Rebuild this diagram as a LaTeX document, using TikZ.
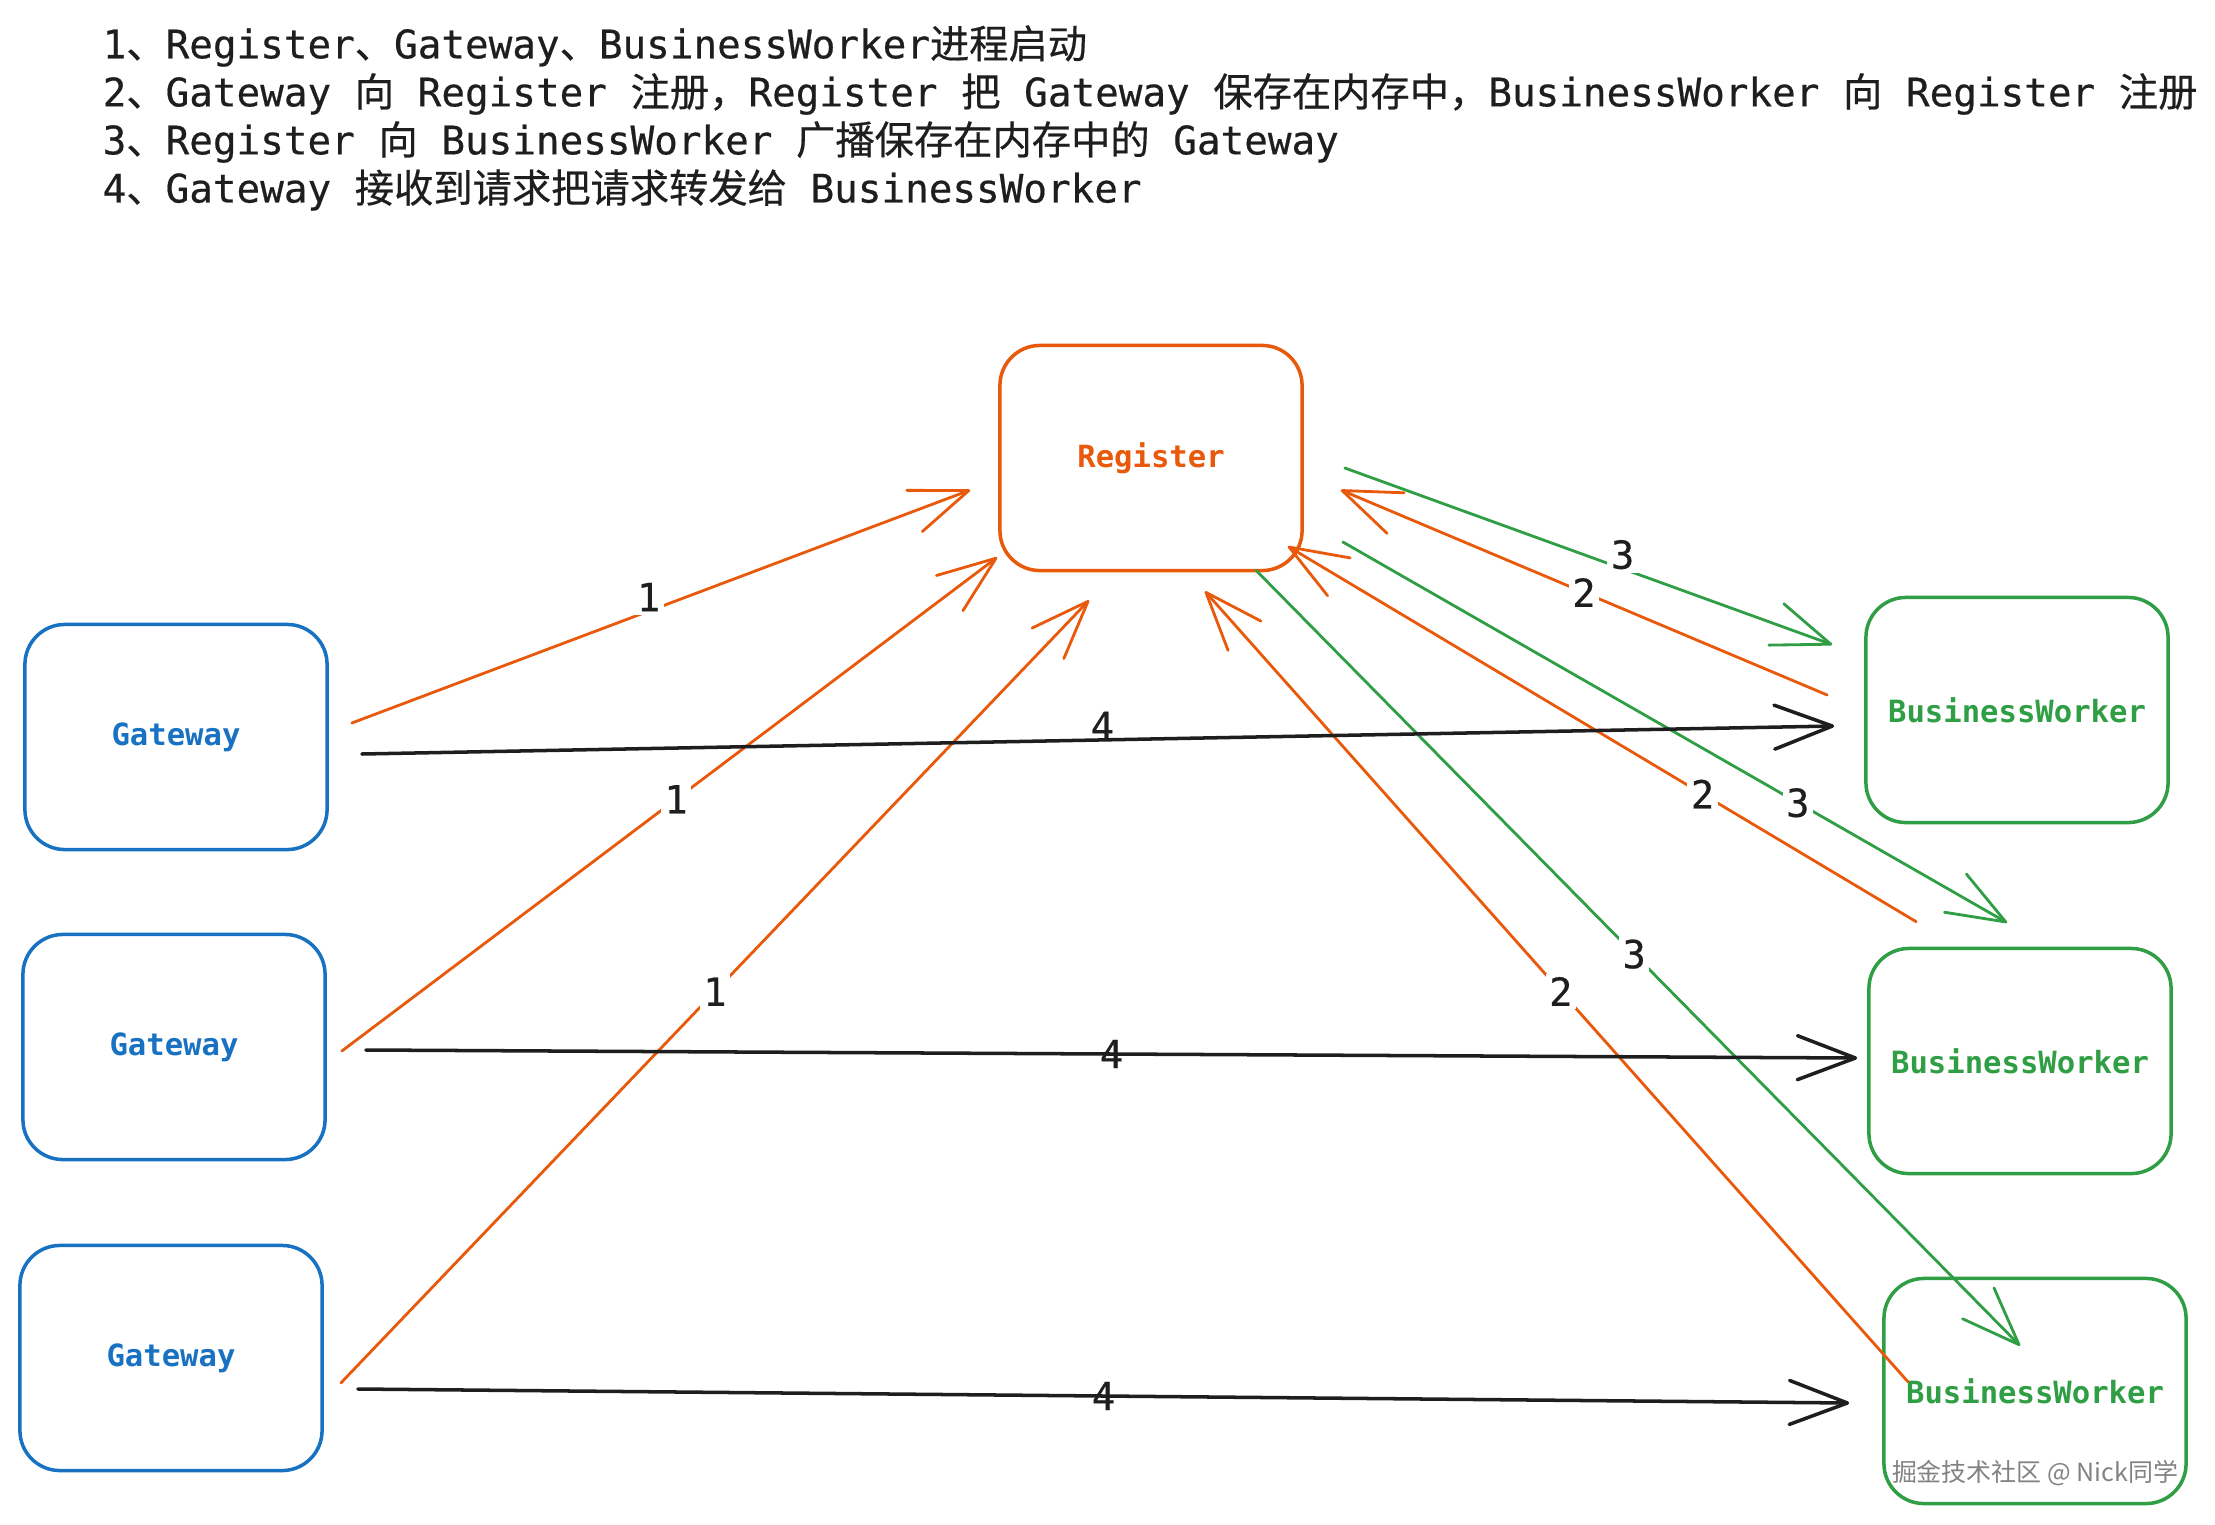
\documentclass[tikz,border=0pt]{standalone}
\usepackage{fontspec}
\usepackage{tikz}
\usetikzlibrary{calc,arrows.meta}
\setmonofont{DejaVu Sans Mono}
\newfontfamily\stepfont{DejaVu Sans Mono}[FakeBold=0.5]
\newfontfamily\cjk{Noto Sans CJK SC}[FakeBold=0.5]
\newfontfamily\wmfont{Noto Sans CJK SC}
\definecolor{exorange}{HTML}{E8590C}
\definecolor{exblue}{HTML}{1971C2}
\definecolor{exgreen}{HTML}{2F9E44}
\definecolor{exblack}{HTML}{1E1E1E}
\definecolor{wmgray}{RGB}{130,130,130}
\newcommand{\zh}[1]{{\cjk #1}}

\begin{document}
\begin{tikzpicture}[x=0.01cm,y=-0.01cm,
  procbox/.style={draw, rounded corners=0.4cm, line width=1pt, minimum width=3.02cm, minimum height=2.25cm,
    font=\ttfamily\bfseries\fontsize{8.7}{10}\selectfont},
  regbox/.style={procbox, draw=exorange, text=exorange},
  gwbox/.style={procbox, draw=exblue, text=exblue},
  bwbox/.style={procbox, draw=exgreen, text=exgreen},
  conn/.style={line width=0.8pt, line cap=round, -{Straight Barb[length=0.58cm,width=0.44cm,round]}},
  regarrow/.style={conn, draw=exorange},
  bcast/.style={conn, draw=exgreen},
  fwd/.style={conn, draw=exblack, line width=1pt},
  numlbl/.style={font=\stepfont\fontsize{11}{12}\selectfont, text=exblack, fill=white, inner sep=1pt},
  numlblk/.style={numlbl, fill=none},
  stepnote/.style={anchor=west, inner sep=0pt, font=\stepfont\fontsize{11.17}{13}\selectfont, text=exblack}
]
  \useasboundingbox (0,0) rectangle (2215,1524);

  % Steps
  \node[stepnote] (l1) at (102,46) {1\zh{、}Register\zh{、}Gateway\zh{、}BusinessWorker\zh{进程启动}};
  \node[stepnote] (l2) at (102,94) {2\zh{、}Gateway \zh{向} Register \zh{注册，}Register \zh{把} Gateway \zh{保存在内存中，}BusinessWorker \zh{向} Register \zh{注册}};
  \node[stepnote] (l3) at (102,142) {3\zh{、}Register \zh{向} BusinessWorker \zh{广播保存在内存中的} Gateway};
  \node[stepnote] (l4) at (102,190) {4\zh{、}Gateway \zh{接收到请求把请求转发给} BusinessWorker};

  % Register
  \node[regbox] (reg) at (1151,458) {Register};

  % Gateways
  \node[gwbox] (gw1) at (176,737) {Gateway};
  \node[gwbox] (gw2) at (174,1047) {Gateway};
  \node[gwbox] (gw3) at (171,1358) {Gateway};

  % BusinessWorkers
  \node[bwbox] (bw1) at (2017,710) {BusinessWorker};
  \node[bwbox] (bw2) at (2020,1061) {BusinessWorker};
  \node[bwbox] (bw3) at (2035,1391) {BusinessWorker};

  % 1: Gateway -> Register
  \draw[regarrow] ($(gw1.east)+(23,-14)$) -- ($(reg.west)+(-28,32)$) node[numlbl,pos=0.48,yshift=4pt] (n1a) {1};
  \draw[regarrow] ($(gw2.east)+(15,4)$) -- ($(reg.south west)+(-1,-15)$) node[numlbl,pos=0.51] (n1b) {1};
  \draw[regarrow] ($(gw3.east)+(17,25)$) -- ($(reg.south)+(-62,28)$) node[numlbl,pos=0.5] (n1c) {1};

  % 2: BusinessWorker -> Register
  \draw[regarrow] ($(bw1.west)+(-37,-15)$) -- ($(reg.east)+(37,32)$) node[numlbl,pos=0.5] (n2a) {2};
  \draw[regarrow] ($(bw2.north west)+(49,-25)$) -- ($(reg.south east)+(-16,-26)$) node[numlbl,pos=0.34] (n2b) {2};
  \draw[regarrow] ($(bw3.west)+(26,-9)$) -- ($(reg.south)+(54,19)$) node[numlbl,pos=0.494] (n2c) {2};

  % 3: Register -> BusinessWorker
  \draw[bcast] ($(reg.east)+(41,10)$) -- ($(bw1.north west)+(-32,49)$) node[numlbl,pos=0.57,yshift=4pt] (n3a) {3};
  \draw[bcast] ($(reg.east)+(39,84)$) -- ($(bw2.north)+(-13,-24)$) node[numlbl,pos=0.685] (n3b) {3};
  \draw[bcast] ($(reg.south)+(105,-2)$) -- ($(bw3.north)+(-15,69)$) node[numlbl,pos=0.495] (n3c) {3};

  % 4: Gateway -> BusinessWorker
  \draw[fwd] ($(gw1.east)+(33,17)$) -- ($(bw1.west)+(-30,16)$) node[numlblk,pos=0.503,yshift=4pt] (n4a) {4};
  \draw[fwd] ($(gw2.east)+(39,3)$) -- ($(bw2.west)+(-10,-3)$) node[numlblk,pos=0.5] (n4b) {4};
  \draw[fwd] ($(gw3.east)+(34,31)$) -- ($(bw3.west)+(-33,12)$) node[numlblk,pos=0.5] (n4c) {4};

  % watermark
  \node[font={\wmfont\fontsize{7.1}{8}\selectfont}, text=wmgray, inner sep=0pt] (wm) at (2035,1473) {掘金技术社区 @ Nick同学};
\end{tikzpicture}
\end{document}
